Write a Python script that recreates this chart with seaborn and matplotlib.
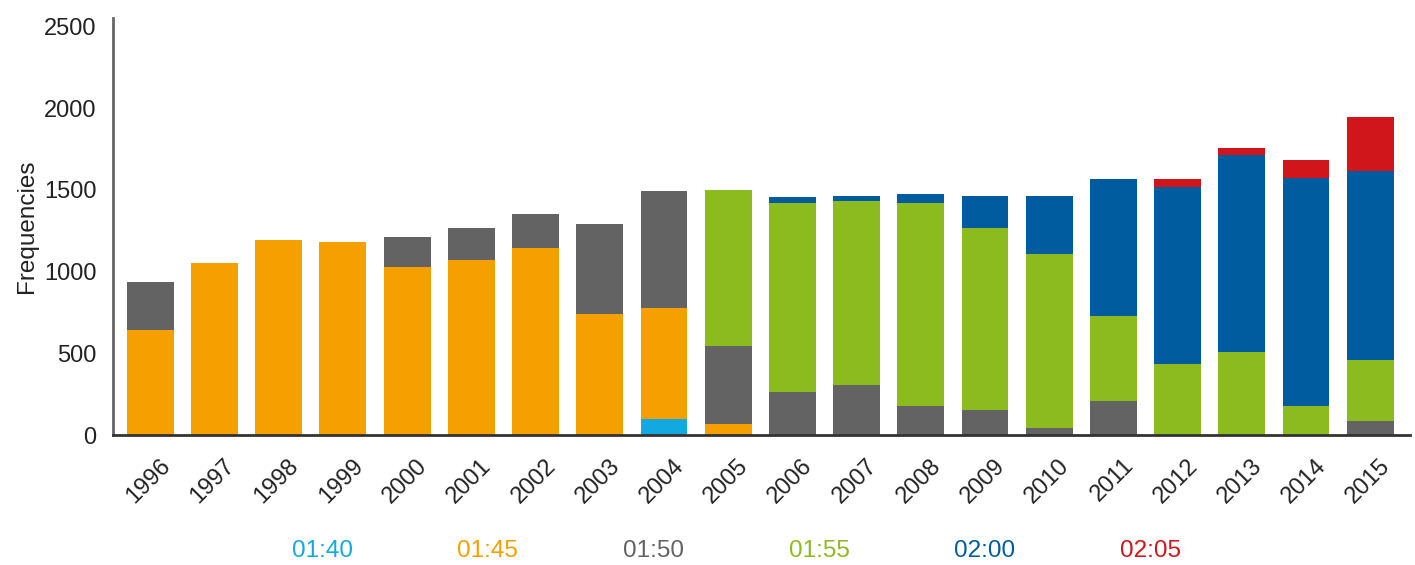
import matplotlib
matplotlib.use("Agg")
import matplotlib.pyplot as plt
import matplotlib.transforms as mtransforms
import seaborn as sns
import numpy as np
import pandas as pd

sns.set_theme(style="white")
plt.rcParams['font.family'] = ['Liberation Sans', 'DejaVu Sans']

years = [str(y) for y in range(1996, 2016)]
series = ["01:40", "01:45", "01:50", "01:55", "02:00", "02:05"]
colors = ["#12A9E0", "#F5A000", "#636363", "#8CBB20", "#005C9E", "#D0161B"]

s_0140 = [0, 0, 0, 0, 0, 0, 0, 0, 100, 0, 0, 0, 0, 0, 0, 0, 0, 0, 0, 0]
s_0145 = [640, 1050, 1195, 1180, 1025, 1070, 1143, 740, 680, 70, 0, 0, 0, 0, 0, 0, 0, 0, 0, 0]
s_0150 = [295, 0, 0, 0, 185, 195, 208, 550, 715, 475, 265, 305, 175, 155, 45, 210, 0, 0, 0, 85]
s_0155 = [0, 0, 0, 0, 0, 0, 0, 0, 0, 955, 1155, 1125, 1245, 1110, 1065, 520, 435, 505, 175, 375]
s_0200 = [0, 0, 0, 0, 0, 0, 0, 0, 0, 0, 35, 30, 55, 195, 350, 835, 1080, 1205, 1400, 1155]
s_0205 = [0, 0, 0, 0, 0, 0, 0, 0, 0, 0, 0, 0, 0, 0, 0, 0, 50, 45, 105, 330]

values = [s_0140, s_0145, s_0150, s_0155, s_0200, s_0205]

df = pd.DataFrame(dict(zip(series, values)), index=years)
cum = df.cumsum(axis=1)

fig = plt.figure(figsize=(14.15, 5.65), dpi=100)
ax = fig.add_axes([0.0799, 0.23, 0.9166, 0.738])

# overlay cumulative totals, tallest first
for name, col in reversed(list(zip(series, colors))):
    sns.barplot(x=years, y=cum[name].values, color=col, width=0.73,
                saturation=1, linewidth=0, ax=ax)

ax.set_xlim(-0.58, 19.62)
ax.set_ylim(0, 2550)
ax.set_yticks([0, 500, 1000, 1500, 2000, 2500])
ax.set_ylabel("Frequencies", fontsize=17.5, color="#222222", labelpad=4)
ax.set_xlabel("")
ax.tick_params(axis="y", labelsize=17, colors="#222222", length=0, pad=12)
ax.tick_params(axis="x", labelsize=17, colors="#222222", length=0, pad=14)

offset = mtransforms.ScaledTranslation(0.09, 0, fig.dpi_scale_trans)
for lab in ax.get_xticklabels():
    lab.set_rotation(45)
    lab.set_ha("right")
    lab.set_rotation_mode("anchor")
    lab.set_transform(lab.get_transform() + offset)

for side in ["top", "right"]:
    ax.spines[side].set_visible(False)
ax.spines["left"].set_color("#666666")
ax.spines["left"].set_linewidth(2)
ax.spines["bottom"].set_color("#333333")
ax.spines["bottom"].set_linewidth(2)

# legend as coloured text labels
leg_x = [0.2276, 0.3446, 0.4617, 0.5788, 0.6959, 0.8130]
for name, col, xx in zip(series, colors, leg_x):
    fig.text(xx, 0.025, name, color=col, fontsize=17.5, ha="center", va="center")

fig.savefig("out.png", dpi=100)
